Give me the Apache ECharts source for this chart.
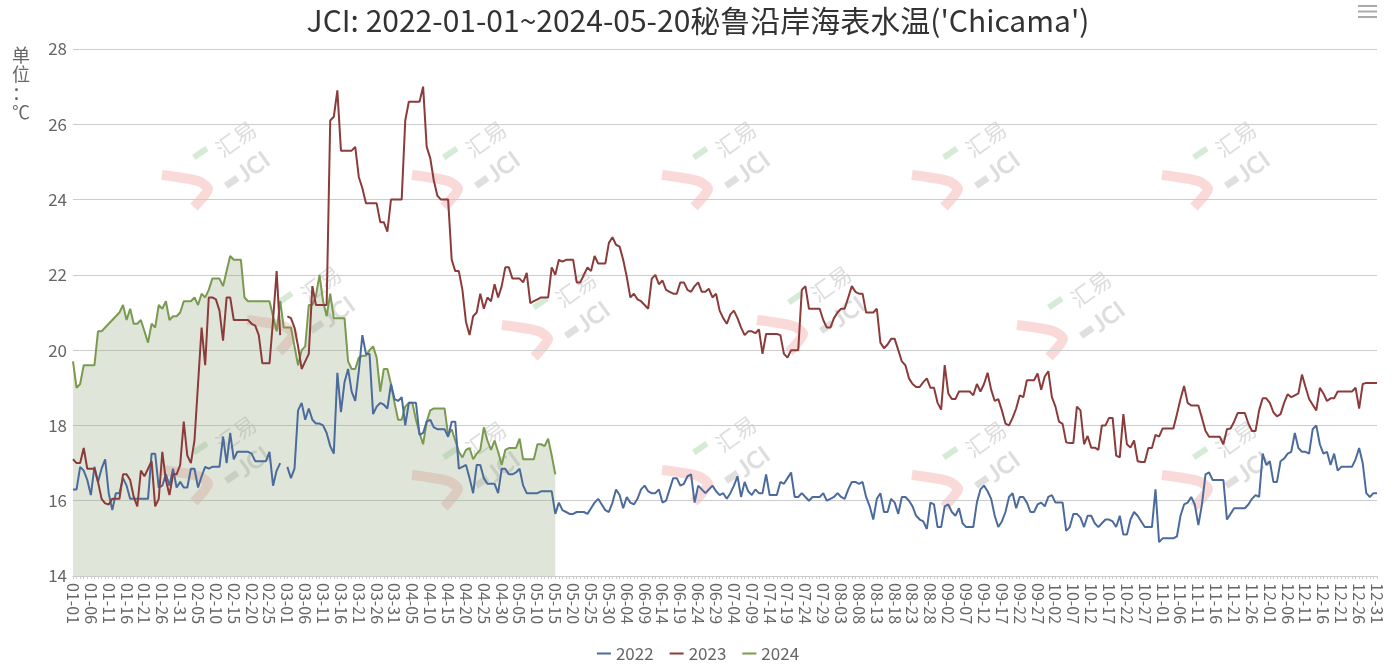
<!DOCTYPE html>
<html><head><meta charset="utf-8">
<script src="https://cdn.jsdelivr.net/npm/echarts@6/dist/echarts.min.js"></script>
<style>html,body{margin:0;padding:0;background:#fff}#c{width:1396px;height:664px}</style>
</head><body><div id="c"></div>
<script>
const titleText = "JCI: 2022-01-01~2024-05-20秘鲁沿岸海表水温('Chicama')";
const yAxisName = "单\n位\n：\n℃";
const seriesNames = ["2022", "2023", "2024"];
const watermarkText1 = "汇易";
const watermarkText2 = "JCI";
const monthDays = [31,29,31,30,31,30,31,31,30,31,30,31];
const categories = [];
monthDays.forEach((n, m) => { for (let d = 1; d <= n; d++) categories.push(String(m+1).padStart(2,'0') + '-' + String(d).padStart(2,'0')); });

const data2022 = [
16.3,16.3,16.9,16.8,16.55,16.15,16.9,16.5,16.85,17.1,
16.2,15.75,16.2,16.2,16.6,16.4,16.05,16.05,16.05,16.05,
16.05,16.05,17.25,17.25,16.35,16.4,16.7,16.4,16.85,16.35,
16.5,16.35,16.35,16.85,16.85,16.35,16.65,16.9,16.85,16.9,
16.9,16.9,17.7,17.0,17.8,17.1,17.3,17.3,17.3,17.3,
17.25,17.05,17.05,17.05,17.05,17.3,16.4,16.8,17.0,null,
16.9,16.6,16.85,18.4,18.6,18.15,18.45,18.15,18.05,18.05,
18.0,17.8,17.45,17.25,19.4,18.35,19.15,19.5,18.9,18.65,
19.45,20.4,19.9,19.9,18.3,18.5,18.6,18.55,18.45,19.1,
18.7,18.65,18.75,18.0,18.6,18.6,18.6,17.75,17.8,18.1,
18.15,17.95,17.9,17.9,17.9,17.7,18.1,18.1,16.85,16.9,
16.95,16.6,16.2,16.95,16.95,16.6,16.45,16.45,16.45,16.2,
16.85,16.85,16.7,16.7,16.75,16.85,16.4,16.2,16.2,16.2,
16.2,16.25,16.25,16.25,16.25,15.65,15.95,15.75,15.7,15.65,
15.65,15.7,15.7,15.7,15.65,15.8,15.95,16.05,15.9,15.75,
15.7,15.95,16.3,16.15,15.8,16.1,15.95,15.9,16.05,16.3,
16.4,16.25,16.2,16.2,16.3,15.95,16.0,16.3,16.6,16.6,
16.4,16.45,16.65,16.7,15.95,16.4,16.3,16.2,16.3,16.4,
16.25,16.15,16.2,16.05,16.2,16.4,16.65,16.1,16.5,16.25,
16.15,16.3,16.2,16.2,16.7,16.15,16.15,16.15,16.5,16.45,
16.6,16.75,16.1,16.1,16.2,16.1,16.0,16.1,16.1,16.1,
16.2,16.0,16.05,16.1,16.2,16.1,16.05,16.3,16.5,16.5,
16.45,16.5,16.1,15.85,15.5,16.05,16.2,15.7,15.7,16.05,
15.95,15.65,16.1,16.1,16.0,15.85,15.6,15.5,15.45,15.25,
15.95,15.9,15.3,15.3,15.85,15.9,15.7,15.6,15.8,15.4,
15.3,15.3,15.3,15.95,16.3,16.4,16.25,16.05,15.6,15.3,
15.45,15.7,16.1,16.2,15.8,16.1,16.1,15.95,15.7,15.7,
15.9,15.95,15.85,16.1,16.15,15.95,15.95,15.95,15.2,15.3,
15.65,15.65,15.55,15.3,15.6,15.6,15.4,15.3,15.4,15.5,
15.5,15.45,15.3,15.6,15.1,15.1,15.5,15.7,15.6,15.45,
15.3,15.3,15.3,16.3,14.9,15.0,15.0,15.0,15.0,15.05,
15.6,15.9,15.95,16.1,15.9,15.35,15.9,16.7,16.75,16.55,
16.55,16.55,16.55,15.5,15.65,15.8,15.8,15.8,15.8,15.9,
16.05,16.15,16.1,17.25,16.95,17.05,16.5,16.5,17.05,17.12,
17.25,17.3,17.8,17.4,17.3,17.3,17.25,17.9,18.0,17.5,
17.25,17.3,16.95,17.25,16.8,16.9,16.9,16.9,16.9,17.1,
17.4,17.0,16.2,16.1,16.2,16.2
];
const data2023 = [
17.1,17.0,17.0,17.4,16.85,16.85,16.85,16.5,16.05,15.93,
15.9,16.05,16.05,16.05,16.7,16.7,16.55,16.1,15.85,16.8,
16.65,16.85,17.05,15.85,16.05,17.3,16.55,16.15,16.7,16.7,
16.95,18.1,17.2,17.0,17.6,19.1,20.6,19.6,21.4,21.4,
21.35,21.05,20.25,21.4,21.4,20.8,20.8,20.8,20.8,20.8,
20.7,20.65,20.4,19.65,19.65,19.65,20.8,22.1,20.4,null,
20.9,20.85,20.6,20.1,19.5,19.7,19.9,21.7,21.2,21.2,
21.2,21.2,26.1,26.2,26.9,25.3,25.3,25.3,25.3,25.4,
24.6,24.3,23.9,23.9,23.9,23.9,23.4,23.4,23.15,24.0,
24.0,24.0,24.0,26.1,26.6,26.6,26.6,26.6,27.0,25.4,
25.1,24.5,24.1,24.0,24.0,24.0,22.4,22.1,22.1,21.6,
20.75,20.4,20.9,21.0,21.5,21.1,21.4,21.3,21.75,21.4,
21.7,22.2,22.2,21.9,21.9,21.9,21.8,22.05,21.25,21.3,
21.35,21.4,21.4,21.4,22.2,22.0,22.4,22.35,22.4,22.4,
22.4,21.8,21.8,22.0,22.2,22.1,22.5,22.3,22.3,22.3,
22.85,23.0,22.8,22.75,22.4,21.95,21.4,21.5,21.35,21.3,
21.2,21.1,21.9,22.0,21.75,21.85,21.6,21.55,21.5,21.5,
21.8,21.8,21.6,21.55,21.7,21.8,21.55,21.55,21.63,21.4,
21.5,21.05,20.85,20.7,20.95,21.05,20.85,20.6,20.4,20.5,
20.5,20.45,20.55,19.9,20.43,20.43,20.43,20.43,20.4,19.9,
19.8,20.0,20.0,20.0,21.6,21.7,21.1,21.1,21.1,21.1,
20.8,20.6,20.6,20.85,21.0,21.1,21.1,21.4,21.7,21.55,
21.5,21.5,21.0,21.0,21.0,21.1,20.2,20.05,20.15,20.3,
20.3,20.0,19.7,19.6,19.25,19.1,19.02,19.02,19.15,19.25,
19.0,19.0,18.6,18.42,19.6,18.85,18.7,18.7,18.9,18.9,
18.9,18.9,18.8,19.1,18.9,19.1,19.4,18.95,18.65,18.7,
18.4,18.05,18.0,18.2,18.45,18.8,18.75,19.2,19.2,19.2,
19.38,18.95,19.3,19.44,18.75,18.5,18.1,18.04,17.55,17.53,
17.53,18.5,18.4,17.5,17.72,17.41,17.41,17.35,18.0,18.0,
18.2,18.2,17.2,17.15,18.3,17.5,17.41,17.6,17.05,17.03,
17.03,17.4,17.4,17.75,17.7,17.92,17.92,17.92,17.92,18.3,
18.7,19.05,18.6,18.53,18.53,18.53,18.2,17.85,17.7,17.7,
17.7,17.7,17.5,17.9,17.92,18.1,18.33,18.33,18.33,18.05,
17.85,17.85,18.4,18.72,18.72,18.6,18.35,18.24,18.3,18.6,
18.83,18.75,18.8,18.85,19.35,19.02,18.7,18.55,18.4,19.0,
18.85,18.65,18.72,18.72,18.9,18.9,18.9,18.9,18.9,19.0,
18.45,19.1,19.13,19.13,19.13,19.13
];
const data2024 = [
19.7,19.0,19.1,19.6,19.6,19.6,19.6,20.5,20.5,20.6,
20.7,20.8,20.9,21.0,21.2,20.8,21.1,20.7,20.7,20.8,
20.5,20.2,20.7,20.6,21.2,21.1,21.3,20.8,20.9,20.9,
21.0,21.3,21.3,21.3,21.4,21.2,21.5,21.4,21.6,21.9,
21.9,21.9,21.7,22.1,22.5,22.4,22.4,22.4,21.4,21.3,
21.3,21.3,21.3,21.3,21.3,21.3,20.9,20.5,21.3,20.6,
20.6,20.6,20.1,19.6,20.0,20.1,21.2,21.2,21.45,22.0,
21.3,20.9,21.5,20.85,20.85,20.85,20.85,19.7,19.5,19.5,
19.8,19.85,19.85,20.0,20.1,19.8,18.9,19.5,19.5,19.1,
18.6,18.15,18.15,18.5,18.6,18.6,18.15,17.8,17.5,18.1,
18.4,18.45,18.45,18.45,18.45,17.75,17.9,17.6,17.3,17.15,
17.35,17.4,17.1,17.25,17.35,17.95,17.6,17.35,17.6,17.3,
16.95,17.35,17.4,17.4,17.4,17.65,17.1,17.1,17.1,17.1,
17.5,17.5,17.45,17.65,17.2,16.7
];
const yMin = 14, yMax = 28, yInterval = 2;
const colors = ['#4b6b9c', '#8c3b3b', '#7a9a4f'];
// watermark anchor positions (page pixels, decoration only)
const watermarkSpots = [
  [190,185],[440,185],[690,185],[940,185],[1190,185],
  [275,330],[530,335],[785,330],[1045,335],
  [190,480],[440,485],[690,480],[940,485],[1190,485]
];

function watermark(p) {
  const x = p[0], y = p[1];
  return { type: 'group', x: x, y: y, z: 0, silent: true, children: [
    { type: 'polyline', shape: { points: [[-28,-10],[8,-4],[18,4],[4,22]], smooth: 0.25 },
      style: { stroke: 'rgba(236,120,120,0.28)', lineWidth: 10, fill: null, lineCap: 'butt', lineJoin: 'round' } },
    { type: 'rect', x: 2, y: -30, rotation: 0.6, shape: { width: 16, height: 6 }, style: { fill: 'rgba(120,190,120,0.3)' } },
    { type: 'rect', x: 34, y: -2, rotation: 0.6, shape: { width: 14, height: 7 }, style: { fill: 'rgba(150,150,150,0.3)' } },
    { type: 'text', x: 46, y: -46, rotation: 0.62, style: { text: watermarkText1, fontSize: 22, fill: 'rgba(150,150,150,0.32)', align: 'center', verticalAlign: 'middle', fontFamily: '"Noto Sans CJK SC",sans-serif' } },
    { type: 'text', x: 64, y: -18, rotation: 0.62, style: { text: watermarkText2, fontSize: 24, fontWeight: 'bold', fill: 'rgba(150,150,150,0.32)', align: 'center', verticalAlign: 'middle', fontFamily: 'Lato,sans-serif' } }
  ]};
}

const chart = echarts.init(document.getElementById('c'));
const font = '"Noto Sans CJK SC","Noto Sans",sans-serif';
chart.setOption({
  animation: false,
  color: colors,
  textStyle: { fontFamily: font },
  title: { text: titleText, left: 'center', top: 1, textStyle: { fontSize: 30, fontWeight: 'normal', color: '#333', fontFamily: font } },
  legend: { data: seriesNames, top: 640, left: 'center', icon: 'rect', itemWidth: 14, itemHeight: 2, itemGap: 16, textStyle: { fontSize: 17, color: '#666' } },
  grid: { left: 73, right: 19, top: 49, bottom: 88 },
  graphic: [
    { type: 'text', left: 12, top: 46, style: { text: yAxisName, fontSize: 18, lineHeight: 19, fill: '#666', fontFamily: font } },
    { type: 'group', right: 19, top: 5, silent: true, children: [
      { type: 'rect', shape: { x: 0, y: 0, width: 19, height: 2 }, style: { fill: '#aaa' } },
      { type: 'rect', shape: { x: 0, y: 5.5, width: 19, height: 2 }, style: { fill: '#aaa' } },
      { type: 'rect', shape: { x: 0, y: 11, width: 19, height: 2 }, style: { fill: '#aaa' } }
    ]}
  ].concat(watermarkSpots.map(watermark)),
  xAxis: { type: 'category', data: categories, boundaryGap: false,
    axisLine: { lineStyle: { color: '#ccc' } },
    axisTick: { interval: 0, length: 3, lineStyle: { color: '#ccc' } },
    axisLabel: { interval: 4, rotate: -90, fontSize: 16, color: '#666', margin: 7 } },
  yAxis: { type: 'value', min: yMin, max: yMax, interval: yInterval,
    axisLabel: { fontSize: 17, color: '#666', margin: 6 },
    splitLine: { lineStyle: { color: '#ccc' } } },
  series: [
    { name: seriesNames[0], type: 'line', data: data2022, symbol: 'none', z: 3, lineStyle: { width: 2 } },
    { name: seriesNames[1], type: 'line', data: data2023, symbol: 'none', z: 3, lineStyle: { width: 2 } },
    { name: seriesNames[2], type: 'line', data: data2024, symbol: 'none', z: 2, lineStyle: { width: 2 }, areaStyle: { color: 'rgba(150,170,130,0.3)', opacity: 1 } }
  ]
});
</script></body></html>
